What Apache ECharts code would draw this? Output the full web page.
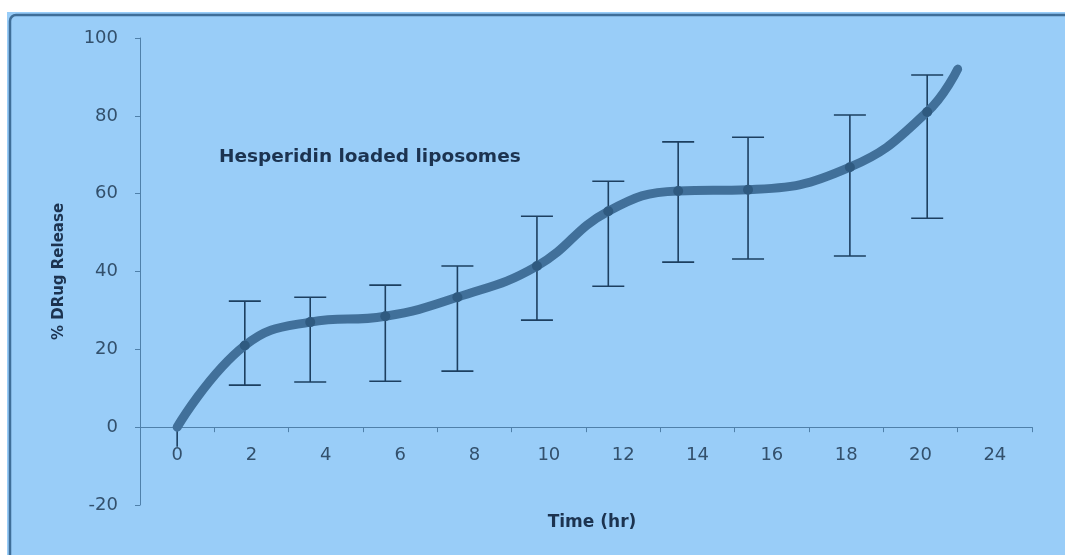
<!DOCTYPE html>
<html>
<head>
<meta charset="utf-8">
<script src="https://cdn.jsdelivr.net/npm/echarts@6/dist/echarts.min.js"></script>
<style>
html,body{margin:0;padding:0;background:#fff;}
#chart{width:1065px;height:555px;}
</style>
</head>
<body>
<div id="chart"></div>
<script>
// Category tick labels on the time axis (hr)
var timeLabels = ['0', '2', '4', '6', '8', '10', '12', '14', '16', '18', '20', '24'];
var timePos = [0, 0.91, 1.79, 2.80, 3.77, 4.84, 5.80, 6.74, 7.68, 9.05, 10.09, 10.50];
// % drug release values
var release = [0, 21, 27, 28.5, 33.4, 41.4, 55.5, 60.7, 61, 66.8, 81, 92];
// Error bar lower / upper ends
var errLow  = [-5, 10.8, 11.6, 11.8, 14.4, 27.5, 36.2, 42.4, 43.2, 44, 53.7, null];
var errHigh = [0, 32.4, 33.4, 36.5, 41.4, 54.2, 63.2, 73.3, 74.5, 80.2, 90.5, null];
// Y axis ticks
var yMin = -20, yMax = 100, yStep = 20;

var chart = echarts.init(document.getElementById('chart'));

var lineData = timePos.map(function (t, i) { return [t, release[i]]; });
var errData = [];
timePos.forEach(function (t, i) {
  if (errLow[i] !== null) errData.push([t, errLow[i], errHigh[i], i]);
});

var labelColor = '#33506c';
var axisColor = '#4f80aa';
var fontFam = '"DejaVu Sans", "Noto Sans", sans-serif';
var gridBottom = 50;

var option = {
  backgroundColor: '#99cdf8',
  animation: false,
  graphic: [
    { type: 'rect', shape: { x: 0, y: 0, width: 1065, height: 12 }, style: { fill: '#ffffff' }, silent: true },
    { type: 'rect', shape: { x: 0, y: 0, width: 7, height: 555 }, style: { fill: '#ffffff' }, silent: true },
    { type: 'rect', shape: { x: 10, y: 15, width: 1100, height: 600, r: [6, 0, 0, 0] },
      style: { fill: 'none', stroke: '#3f6e98', lineWidth: 2.5 }, silent: true }
  ],
  title: {
    text: 'Hesperidin loaded liposomes',
    left: 214, top: 143,
    textStyle: { fontFamily: fontFam, fontSize: 18.5, fontWeight: 'bold', color: '#1c3350' }
  },
  grid: { left: 140, right: 33, top: 38, bottom: gridBottom, containLabel: false, outerBoundsMode: 'none' },
  xAxis: [
    {
      type: 'category',
      data: timeLabels,
      boundaryGap: true,
      offset: 0,
      axisLine: { onZero: false, lineStyle: { color: axisColor, width: 1 } },
      axisTick: { show: true, interval: 0, alignWithLabel: false, length: 5, inside: false, lineStyle: { color: axisColor } },
      axisLabel: { interval: 0, margin: 19, fontFamily: fontFam, fontSize: 18, color: labelColor },
      splitLine: { show: false },
      name: 'Time (hr)',
      nameLocation: 'middle',
      nameGap: 87,
      nameMoveOverlap: false,
      nameTextStyle: { fontFamily: fontFam, fontSize: 17, fontWeight: 'bold', color: '#1c3350', padding: [0, 0, 0, 12] }
    },
    {
      type: 'value',
      min: -0.5, max: 11.5,
      show: false
    }
  ],
  yAxis: {
    type: 'value',
    min: yMin, max: yMax, interval: yStep,
    axisLine: { show: true, onZero: false, lineStyle: { color: axisColor, width: 1 } },
    axisTick: { show: true, length: 5, lineStyle: { color: axisColor } },
    axisLabel: { margin: 22, fontFamily: fontFam, fontSize: 18, color: labelColor },
    splitLine: { show: false },
    name: '% DRug Release',
    nameLocation: 'middle',
    nameGap: 73,
    nameMoveOverlap: false,
    nameTextStyle: { fontFamily: fontFam, fontSize: 15, fontWeight: 'bold', color: '#1c3350' }
  },
  series: [
    {
      type: 'custom',
      xAxisIndex: 1,
      data: errData,
      z: 3,
      renderItem: function (params, api) {
        var x = api.value(0);
        var lo = api.coord([x, api.value(1)]);
        var hi = api.coord([x, api.value(2)]);
        var idx = api.value(3);
        var hw = 16;
        var st = { stroke: '#1d3f60', lineWidth: 1.6 };
        var children = [
          { type: 'line', shape: { x1: lo[0], y1: lo[1], x2: hi[0], y2: hi[1] }, style: st }
        ];
        if (idx !== 0) {
          children.push({ type: 'line', shape: { x1: hi[0] - hw, y1: hi[1], x2: hi[0] + hw, y2: hi[1] }, style: st });
          children.push({ type: 'line', shape: { x1: lo[0] - hw, y1: lo[1], x2: lo[0] + hw, y2: lo[1] }, style: st });
        }
        return { type: 'group', children: children };
      }
    },
    {
      type: 'line',
      xAxisIndex: 1,
      data: lineData,
      smooth: 0.45,
      z: 4,
      symbol: 'circle',
      symbolSize: function (v, p) {
        return (p.dataIndex === 0 || p.dataIndex === release.length - 1) ? 0 : 10;
      },
      lineStyle: { color: '#41709a', width: 9, cap: 'round', join: 'round' },
      itemStyle: { color: '#2f5a80', borderWidth: 0 }
    }
  ]
};
chart.setOption(option);
// Place the category axis on y = 0, using the library's own y scale
var yZero = chart.convertToPixel({ yAxisIndex: 0 }, 0);
var gridBottomPx = chart.getHeight() - gridBottom;
chart.setOption({ xAxis: [{ offset: yZero - gridBottomPx }, {}] });
</script>
</body>
</html>
